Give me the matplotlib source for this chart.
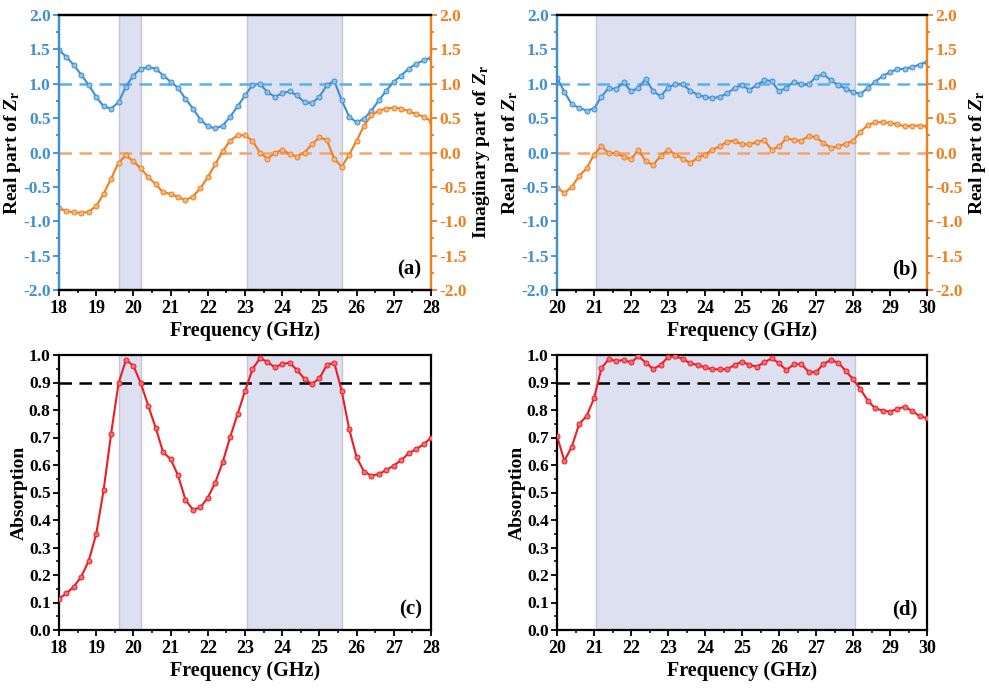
import numpy as np
import matplotlib
matplotlib.use('Agg')
import matplotlib.pyplot as plt
from matplotlib.ticker import MultipleLocator

plt.rcParams['font.family'] = 'Liberation Serif'
plt.rcParams['font.weight'] = 'bold'
plt.rcParams['mathtext.fontset'] = 'custom'
plt.rcParams['mathtext.rm'] = 'Liberation Serif:bold'
plt.rcParams['mathtext.it'] = 'Liberation Serif:italic:bold'

# frequency grids (GHz)
freq_a = np.round(np.arange(18.0, 28.01, 0.2), 1)
freq_b = np.round(np.arange(20.0, 30.01, 0.2), 1)

# (a) real / imaginary part of Zr
re_a = [1.49, 1.39, 1.27, 1.13, 0.98, 0.81, 0.67, 0.64, 0.73, 0.96,
        1.12, 1.22, 1.24, 1.22, 1.12, 1.03, 0.94, 0.78, 0.64, 0.48,
        0.38, 0.35, 0.39, 0.52, 0.67, 0.83, 0.98, 1.00, 0.88, 0.81,
        0.86, 0.89, 0.83, 0.73, 0.72, 0.81, 0.98, 1.04, 0.76, 0.52,
        0.44, 0.49, 0.61, 0.76, 0.90, 1.03, 1.12, 1.22, 1.29, 1.34, 1.38]
im_a = [-0.81, -0.85, -0.87, -0.88, -0.86, -0.78, -0.60, -0.38, -0.15, -0.04,
        -0.13, -0.23, -0.36, -0.46, -0.58, -0.60, -0.65, -0.69, -0.64, -0.52,
        -0.36, -0.17, 0.02, 0.17, 0.25, 0.25, 0.17, 0.00, -0.09, -0.01,
        0.04, -0.02, -0.06, 0.00, 0.12, 0.22, 0.18, -0.09, -0.21, -0.03,
        0.17, 0.39, 0.54, 0.61, 0.64, 0.65, 0.64, 0.60, 0.56, 0.52, 0.46]

# (b) real / imaginary part of Zr
re_b = [1.09, 0.88, 0.70, 0.65, 0.61, 0.64, 0.81, 0.94, 0.92, 1.02,
        0.89, 0.94, 1.07, 0.89, 0.82, 0.94, 1.00, 0.99, 0.90, 0.84,
        0.81, 0.79, 0.81, 0.86, 0.94, 0.98, 0.91, 0.98, 1.05, 1.04,
        0.89, 0.94, 1.03, 0.99, 0.99, 1.10, 1.14, 1.05, 0.98, 0.93,
        0.88, 0.85, 0.94, 1.03, 1.11, 1.17, 1.21, 1.22, 1.24, 1.28, 1.32]
im_b = [-0.51, -0.59, -0.50, -0.34, -0.23, -0.03, 0.09, -0.01, -0.01, -0.06,
        -0.10, 0.04, -0.13, -0.18, -0.05, 0.04, -0.03, -0.09, -0.15, -0.08,
        -0.03, 0.04, 0.09, 0.16, 0.17, 0.12, 0.12, 0.15, 0.18, 0.04,
        0.09, 0.21, 0.18, 0.17, 0.24, 0.22, 0.14, 0.07, 0.09, 0.13,
        0.17, 0.30, 0.40, 0.44, 0.44, 0.43, 0.41, 0.38, 0.39, 0.39, 0.38]

# (c), (d) absorption
abs_c = [0.114, 0.133, 0.158, 0.194, 0.252, 0.349, 0.509, 0.713, 0.897, 0.982,
         0.961, 0.897, 0.815, 0.735, 0.646, 0.622, 0.562, 0.473, 0.438, 0.446,
         0.481, 0.536, 0.610, 0.701, 0.785, 0.869, 0.948, 0.988, 0.976, 0.955,
         0.967, 0.972, 0.945, 0.913, 0.895, 0.915, 0.964, 0.972, 0.869, 0.731,
         0.628, 0.576, 0.561, 0.567, 0.582, 0.598, 0.618, 0.642, 0.658, 0.675, 0.699]
abs_d = [0.705, 0.615, 0.667, 0.749, 0.778, 0.842, 0.952, 0.985, 0.978, 0.982,
         0.973, 0.995, 0.972, 0.949, 0.964, 0.992, 0.996, 0.985, 0.970, 0.964,
         0.955, 0.948, 0.948, 0.948, 0.964, 0.976, 0.964, 0.958, 0.973, 0.988,
         0.970, 0.945, 0.966, 0.967, 0.939, 0.937, 0.967, 0.982, 0.972, 0.943,
         0.912, 0.876, 0.834, 0.806, 0.798, 0.794, 0.804, 0.812, 0.796, 0.778, 0.770]

bands_a = [(19.6, 20.2), (23.05, 25.6)]
bands_b = [(21.06, 28.06)]

BLUE = '#3f8fd2'
BLUE_L = '#5ab0ea'
ORANGE = '#f07f1e'
ORANGE_L = '#f2a46c'
RED = '#ee1c25'
SHADE = '#d2d6ec'

fig = plt.figure(figsize=(9.89, 6.88), dpi=100)
W, H = 989.0, 688.0


def box(l, t, r, b):
    return [l / W, 1 - b / H, (r - l) / W, (b - t) / H]


def shade(ax, bands):
    for lo, hi in bands:
        ax.axvspan(lo, hi, facecolor=SHADE, alpha=0.75, edgecolor='#b8b8c8', lw=1.0, zorder=0)


def style_x(ax, x0, x1):
    ax.set_xlim(x0, x1)
    ax.xaxis.set_major_locator(MultipleLocator(1))
    ax.xaxis.set_minor_locator(MultipleLocator(0.5))
    ax.tick_params(axis='x', which='major', direction='out', length=4, width=1.3, labelsize=13, pad=3)
    ax.tick_params(axis='x', which='minor', direction='out', length=2.5, width=1.1)
    ax.set_xlabel('Frequency (GHz)', fontsize=14.5, fontweight='bold', labelpad=3)


def zr_panel(rect, f, re, im, bands, x0, x1, rlabel, tag):
    ax = fig.add_axes(rect)
    shade(ax, bands)
    ax.axhline(1.0, color=BLUE_L, ls=(0, (5, 3)), lw=1.8, zorder=1)
    ax.axhline(0.0, color=ORANGE_L, ls=(0, (5, 3)), lw=1.8, zorder=1)
    ax.plot(f, re, '-o', color=BLUE, lw=1.5, ms=3.6, mfc='#8cc4f0', mec=BLUE, mew=0.7, zorder=3)
    ax.plot(f, im, '-o', color=ORANGE, lw=1.5, ms=3.6, mfc='#f8b880', mec=ORANGE, mew=0.7, zorder=3)
    ax.set_ylim(-2, 2)
    ax.yaxis.set_minor_locator(MultipleLocator(0.25))
    style_x(ax, x0, x1)
    for s in ['left', 'right', 'top', 'bottom']:
        ax.spines[s].set_linewidth(1.6)
    ax.spines['left'].set_color(BLUE)
    ax.spines['right'].set_color(ORANGE)
    ax.tick_params(axis='y', which='both', colors=BLUE, direction='out', width=1.3)
    ax.tick_params(axis='y', which='major', length=4, labelsize=12.5, pad=2)
    ax.tick_params(axis='y', which='minor', length=2.5)
    yt = np.arange(-2, 2.01, 0.5)
    ax.set_yticks(yt)
    ax.set_yticklabels(['%.1f' % v for v in yt], color=BLUE, fontweight='bold')
    ax.set_ylabel(r'Real part of $Z_{\rm r}$', fontsize=14, fontweight='bold', labelpad=0)
    ax2 = ax.twinx()
    ax2.set_ylim(-2, 2)
    ax2.yaxis.set_minor_locator(MultipleLocator(0.25))
    ax2.spines['right'].set_color(ORANGE)
    ax2.spines['left'].set_color(BLUE)
    for s in ['left', 'right', 'top', 'bottom']:
        ax2.spines[s].set_linewidth(1.6)
    ax2.tick_params(axis='y', which='both', colors=ORANGE, direction='out', width=1.3)
    ax2.tick_params(axis='y', which='major', length=4, labelsize=12.5, pad=2)
    ax2.tick_params(axis='y', which='minor', length=2.5)
    ax2.set_yticks(yt)
    ax2.set_yticklabels(['%.1f' % v for v in yt], color=ORANGE, fontweight='bold')
    ax2.set_ylabel(rlabel, fontsize=14, fontweight='bold', labelpad=3)
    ax.text(0.975, 0.04, tag, transform=ax.transAxes, ha='right', va='bottom',
            fontsize=15, fontweight='bold')
    return ax


def abs_panel(rect, f, a, bands, x0, x1, tag):
    ax = fig.add_axes(rect)
    shade(ax, bands)
    ax.axhline(0.9, color='black', ls=(0, (5, 3)), lw=1.8, zorder=1)
    ax.plot(f, a, '-o', color=RED, lw=1.5, ms=3.6, mfc='#f87070', mec=RED, mew=0.7, zorder=3)
    ax.set_ylim(0, 1.0)
    ax.yaxis.set_minor_locator(MultipleLocator(0.05))
    style_x(ax, x0, x1)
    for s in ['left', 'right', 'top', 'bottom']:
        ax.spines[s].set_linewidth(1.6)
    ax.tick_params(axis='y', which='major', direction='out', length=4, width=1.3, labelsize=12.5, pad=2)
    ax.tick_params(axis='y', which='minor', direction='out', length=2.5, width=1.1)
    yt = np.arange(0, 1.01, 0.1)
    ax.set_yticks(yt)
    ax.set_yticklabels(['%.1f' % v for v in yt], fontweight='bold')
    ax.set_ylabel('Absorption', fontsize=14, fontweight='bold', labelpad=1)
    ax.text(0.975, 0.04, tag, transform=ax.transAxes, ha='right', va='bottom',
            fontsize=15, fontweight='bold')
    return ax


zr_panel(box(59, 15, 431, 290), freq_a, re_a, im_a, bands_a, 18, 28,
         r'Imaginary part of $Z_{\rm r}$', '(a)')
zr_panel(box(557, 15, 927, 290), freq_b, re_b, im_b, bands_b, 20, 30,
         r'Real part of $Z_{\rm r}$', '(b)')
abs_panel(box(59, 355, 431, 630), freq_a, abs_c, bands_a, 18, 28, '(c)')
abs_panel(box(557, 355, 927, 630), freq_b, abs_d, bands_b, 20, 30, '(d)')

fig.savefig('out.png', dpi=100)
